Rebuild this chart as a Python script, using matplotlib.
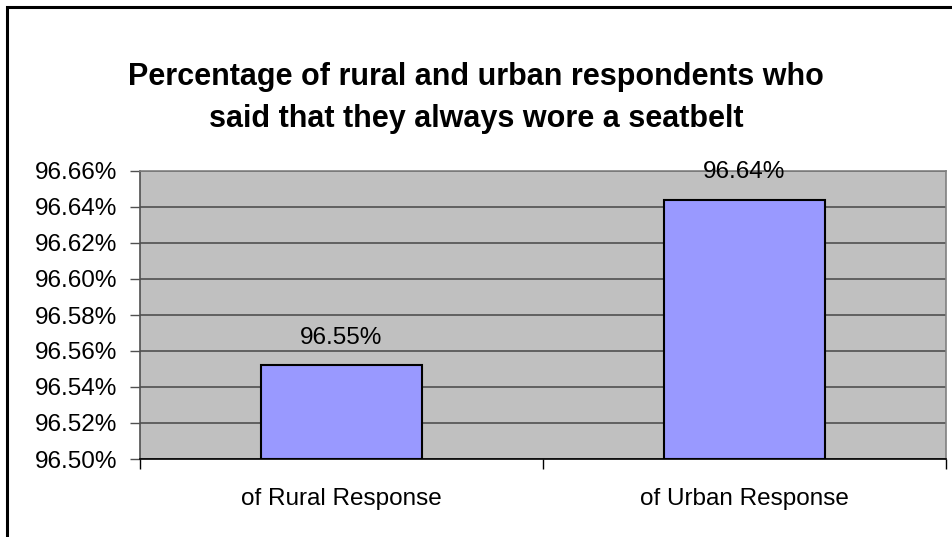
import matplotlib
matplotlib.use("Agg")
import matplotlib.pyplot as plt
from matplotlib.patches import Rectangle
from matplotlib.ticker import FuncFormatter, MultipleLocator

categories = ["of Rural Response", "of Urban Response"]
values = [96.552, 96.644]
value_labels = ["96.55%", "96.64%"]
title = "Percentage of rural and urban respondents who\nsaid that they always wore a seatbelt"

plt.rcParams['font.family'] = ['Liberation Sans', 'DejaVu Sans']

W, H = 953, 537
fig = plt.figure(figsize=(W / 100, H / 100), dpi=100)

# outer chart border (cropped at right/bottom)
fig.patches.append(Rectangle((7 / W, -0.05), 1.1, 1 - 7 / H + 0.05, transform=fig.transFigure,
                             fill=False, edgecolor='black', linewidth=2.2, zorder=0))

ax = fig.add_axes([140 / W, 1 - 459 / H, (946 - 140) / W, (459 - 171) / H])
ax.set_facecolor('#C0C0C0')

x = [0.5, 1.5]
ax.bar(x, [v - 96.5 for v in values], bottom=96.5, width=0.4,
       color='#9999FF', edgecolor='black', linewidth=1.5, zorder=3)

for xi, v, lab in zip(x, values, value_labels):
    ax.annotate(lab, (xi, v), xytext=(0, 12), textcoords='offset points',
                ha='center', va='bottom', fontsize=17.5, zorder=5, annotation_clip=False)

ax.set_xlim(0, 2)
ax.set_ylim(96.50, 96.66)
ax.yaxis.set_major_locator(MultipleLocator(0.02))
ax.yaxis.set_major_formatter(FuncFormatter(lambda v, p: f"{v:.2f}%"))
ax.grid(axis='y', color='#505050', linewidth=1.2, zorder=1)
ax.set_xticks([0, 1, 2])
ax.set_xticklabels([])
ax.set_xticks(x, minor=True)
ax.set_xticklabels(categories, minor=True)
ax.tick_params(axis='x', which='minor', length=0, pad=21, labelsize=17.5)
ax.tick_params(axis='x', which='major', length=7, width=1, color='black')
ax.tick_params(axis='y', length=7, width=1, color='#505050', labelsize=17.5, pad=9.5)

for s in ['top', 'right']:
    ax.spines[s].set_color('#808080')
    ax.spines[s].set_linewidth(1.2)
ax.spines['left'].set_color('#505050')
ax.spines['left'].set_linewidth(1.2)
ax.spines['bottom'].set_color('black')
ax.spines['bottom'].set_linewidth(1.2)
ax.spines['bottom'].set_zorder(4)

fig.text(476 / W, 1 - 98 / H, title, ha='center', va='center', fontsize=22,
         fontweight='bold', linespacing=1.5)

fig.savefig('out.png', dpi=100)
